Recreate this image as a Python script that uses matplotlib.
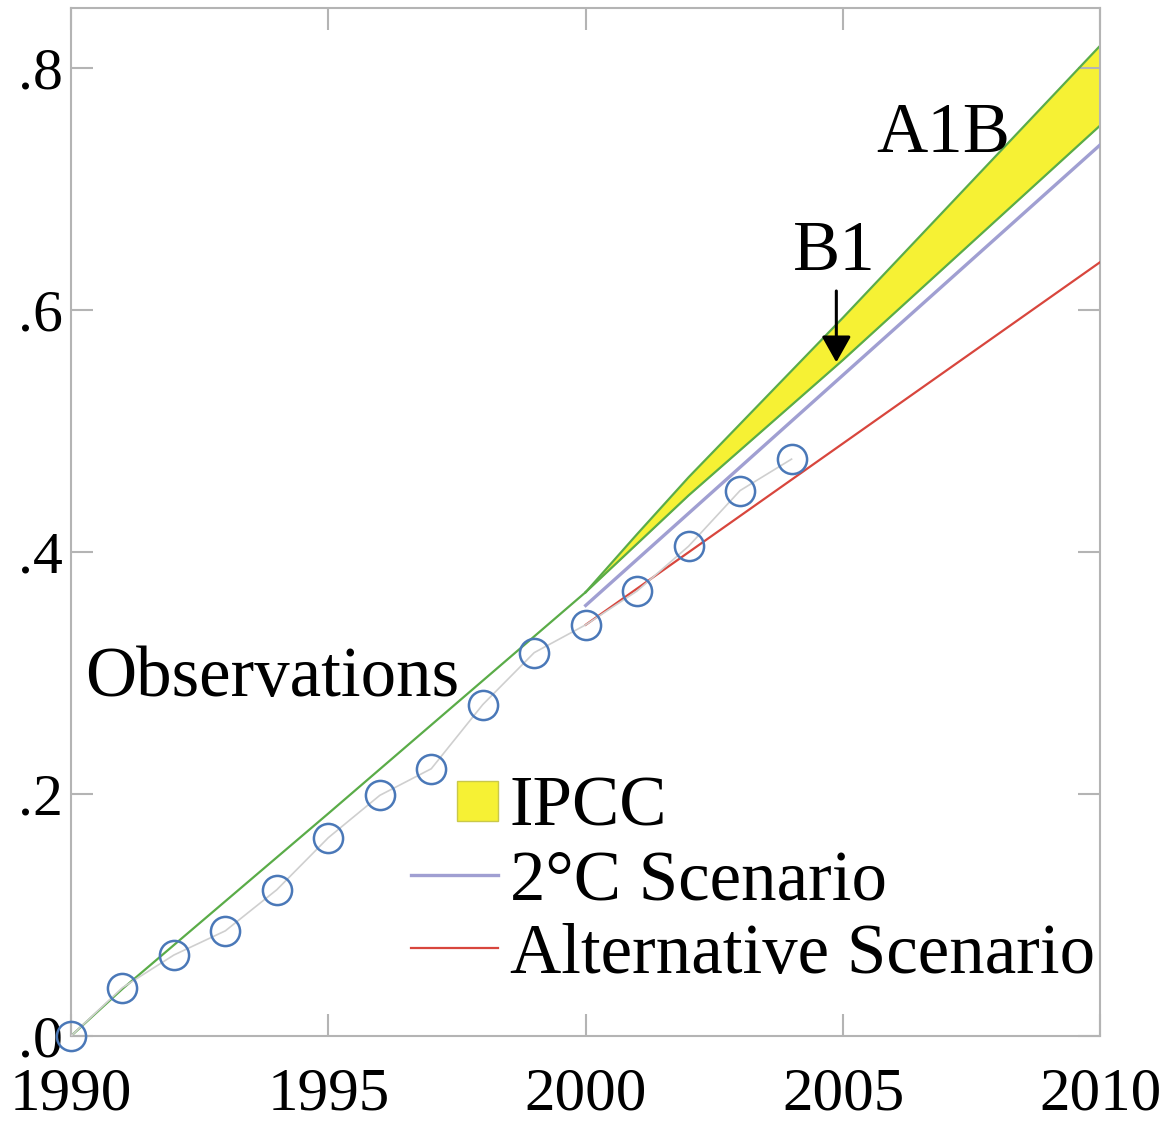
import matplotlib.pyplot as plt
from matplotlib.patches import Rectangle
from matplotlib.legend_handler import HandlerPatch
from matplotlib.lines import Line2D
from matplotlib.ticker import FuncFormatter

plt.rcParams['font.family'] = ['Liberation Serif', 'DejaVu Serif']

# Beobachtungen (Jahreswerte)
obs_jahre = [1990, 1991, 1992, 1993, 1994, 1995, 1996, 1997, 1998, 1999,
             2000, 2001, 2002, 2003, 2004]
obs_werte = [0.000, 0.040, 0.067, 0.087, 0.121, 0.164, 0.199, 0.221, 0.274, 0.317,
             0.340, 0.368, 0.405, 0.451, 0.477]

# IPCC Verlauf bis 2000 (gemeinsame Linie)
ipcc_jahre_hist = [1990, 1991, 1995, 2000]
ipcc_werte_hist = [0.000, 0.039, 0.184, 0.367]

# IPCC Band ab 2000: A1B oben, B1 unten
band_jahre = [2000, 2001, 2002, 2005, 2010]
band_a1b = [0.367, 0.415, 0.462, 0.594, 0.819]
band_b1 = [0.367, 0.407, 0.447, 0.559, 0.753]

# Szenarien
szen_jahre = [2000, 2010]
szen_2grad = [0.356, 0.737]
szen_alternativ = [0.340, 0.640]

gruen = '#5aac48'
gelb = '#f6f134'
lila = '#a09fd2'
rot = '#d8463d'
blau = '#4a78b8'
grau = '#b4b4b4'


class QuadratHandler(HandlerPatch):
    # kleines Quadrat am rechten Ende des Legenden-Handles
    def create_artists(self, legend, orig_handle, xdescent, ydescent,
                       width, height, fontsize, trans):
        seite = 0.57 * fontsize
        x0 = -xdescent + width - seite
        y0 = -ydescent + (height - seite) / 2
        p = Rectangle((x0, y0), seite, seite,
                      facecolor=orig_handle.get_facecolor(),
                      edgecolor=orig_handle.get_edgecolor(),
                      linewidth=1.0, transform=trans)
        return [p]


fig = plt.figure(figsize=(11.69, 11.22), dpi=100)
ax = fig.add_axes([0.0607, 0.0766, 0.8806, 0.9163])

# IPCC Band
ax.fill_between(band_jahre, band_b1, band_a1b, color=gelb, linewidth=0, zorder=1)
ax.plot(ipcc_jahre_hist, ipcc_werte_hist, color=gruen, lw=1.6, zorder=2)
ax.plot(band_jahre, band_a1b, color=gruen, lw=1.6, zorder=2)
ax.plot(band_jahre, band_b1, color=gruen, lw=1.6, zorder=2)

# Szenarien
ax.plot(szen_jahre, szen_2grad, color=lila, lw=2.4, zorder=3)
ax.plot(szen_jahre, szen_alternativ, color=rot, lw=1.6, zorder=3)

# Beobachtungen
ax.plot(obs_jahre, obs_werte, color='#cfcfcf', lw=1.2, zorder=4)
ax.plot(obs_jahre, obs_werte, 'o', ms=21, mfc='none', mec=blau, mew=1.8,
        zorder=5, clip_on=False)

# Beschriftungen
ax.text(1990.27, 0.281, 'Observations', fontsize=51, zorder=6)
ax.text(2005.65, 0.731, 'A1B', fontsize=51, zorder=6)
ax.text(2004.03, 0.633, 'B1', fontsize=51, zorder=6)
ax.annotate('', xy=(2004.87, 0.557), xytext=(2004.87, 0.616),
            arrowprops=dict(arrowstyle='-|>,head_length=0.8,head_width=0.45',
                            mutation_scale=20, color='black', lw=2.2,
                            shrinkA=0, shrinkB=0))

# Legende
h_ipcc = Rectangle((0, 0), 1, 1, facecolor=gelb, edgecolor='#c9c84a')
h_2grad = Line2D([], [], color=lila, lw=2.4)
h_alt = Line2D([], [], color=rot, lw=1.6)
ax.legend([h_ipcc, h_2grad, h_alt],
          ['IPCC', '2°C Scenario', 'Alternative Scenario'],
          handler_map={Rectangle: QuadratHandler()},
          loc='center left', bbox_to_anchor=(0.330, 0.150),
          frameon=False, fontsize=51, handlelength=1.23, handletextpad=0.17,
          labelspacing=0.12, borderpad=0, borderaxespad=0)

# Achsen
ax.set_xlim(1990, 2010)
ax.set_ylim(0, 0.85)
ax.set_xticks([1990, 1995, 2000, 2005, 2010])
ax.set_yticks([0.0, 0.2, 0.4, 0.6, 0.8])
ax.yaxis.set_major_formatter(FuncFormatter(lambda v, p: ('%.1f' % v).lstrip('0')))
ax.tick_params(direction='in', length=16, width=1.5, color=grau,
               top=True, right=True)
ax.tick_params(axis='x', pad=22, labelsize=44)
ax.tick_params(axis='y', pad=6, labelsize=43)
for s in ax.spines.values():
    s.set_color(grau)
    s.set_linewidth(1.5)

fig.savefig('out.png', dpi=100)
